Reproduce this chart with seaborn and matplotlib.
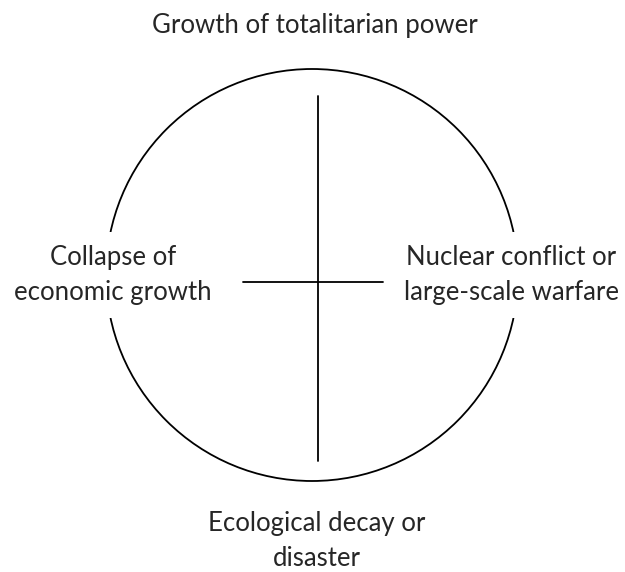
import matplotlib
matplotlib.use("Agg")
import matplotlib.pyplot as plt
from matplotlib.patches import Circle
import seaborn as sns
import pandas as pd

sns.set_style("white")
plt.rcParams['font.family'] = ['Lato', 'DejaVu Sans']

# Diagram content
top_label = "Growth of totalitarian power"
left_label = "Collapse of\neconomic growth"
right_label = "Nuclear conflict or\nlarge-scale warfare"
bottom_label = "Ecological decay or\ndisaster"

# cross segments (pixel space of the original picture)
vert_x = [318, 318]
vert_y = [96, 461]
horz_x = [243, 383]
horz_y = [282, 282]
circle_center = (312, 275)
circle_radius = 206

fig = plt.figure(figsize=(6.25, 5.72), dpi=100)
ax = fig.add_axes([0, 0, 1, 1])

ax.add_patch(Circle(circle_center, circle_radius, fill=False, lw=1.3, color='black'))

vert = pd.DataFrame({'x': vert_x, 'y': vert_y})
horz = pd.DataFrame({'x': horz_x, 'y': horz_y})
sns.lineplot(data=vert, x='x', y='y', ax=ax, color='black', lw=1.3,
             sort=False, estimator=None)
sns.lineplot(data=horz, x='x', y='y', ax=ax, color='black', lw=1.3,
             sort=False, estimator=None)
ax.set_xlim(0, 625)
ax.set_ylim(572, 0)
ax.axis('off')

fs = 18.5
box = dict(facecolor='white', edgecolor='none', pad=9)
ax.text(315, 25, top_label, ha='center', va='center', fontsize=fs)
ax.text(113, 275, left_label, ha='center', va='center', fontsize=fs,
        linespacing=1.5, bbox=box)
ax.text(511, 275, right_label, ha='center', va='center', fontsize=fs,
        linespacing=1.5, bbox=box)
ax.text(317, 541, bottom_label, ha='center', va='center', fontsize=fs,
        linespacing=1.5)

fig.savefig('out.png', dpi=100)
